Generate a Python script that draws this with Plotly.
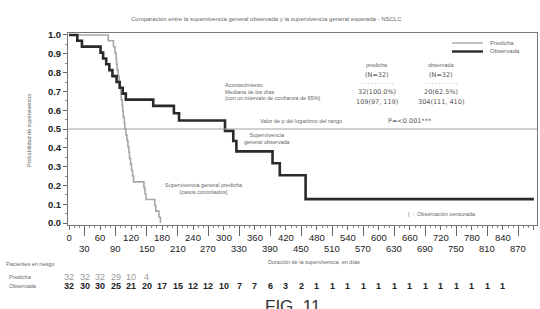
import plotly.graph_objects as go

# ---------------- data ----------------
obs_days = [0, 16, 25, 61, 66, 72, 78, 84, 92, 98, 104, 110, 163, 203, 213,
            302, 318, 324, 394, 408, 458, 900]
obs_surv = [1.0, 0.969, 0.938, 0.906, 0.875, 0.844, 0.813, 0.781, 0.75, 0.719,
            0.688, 0.656, 0.623, 0.584, 0.545, 0.49, 0.436, 0.381, 0.318,
            0.254, 0.127, 0.127]

pred_days = [0, 76, 86, 89, 91, 92, 93, 95, 97, 99, 100, 101, 103, 104, 105,
             107, 108, 110, 112, 114, 116, 117, 119, 121, 123, 125, 145, 147,
             149, 166, 168, 174, 177]
pred_surv = [1.0, 0.969, 0.938, 0.906, 0.875, 0.844, 0.813, 0.781, 0.75, 0.719,
             0.688, 0.656, 0.625, 0.594, 0.563, 0.531, 0.5, 0.469, 0.438,
             0.406, 0.375, 0.344, 0.313, 0.281, 0.25, 0.219, 0.188, 0.156,
             0.125, 0.094, 0.063, 0.031, 0.0]

risk_days = list(range(0, 841, 30))
obs_risk = [32, 30, 30, 25, 21, 20, 17, 15, 12, 12, 10, 7, 7, 6, 3, 2,
            1, 1, 1, 1, 1, 1, 1, 1, 1, 1, 1, 1, 1]
pred_risk = [32, 32, 32, 29, 10, 4]

top_ticks = list(range(0, 901, 60))
bottom_ticks = list(range(30, 871, 60))
y_ticks = [round(i * 0.1, 1) for i in range(11)]

series_names = ["Predicha", "Observada"]
title_text = "Comparación entre la supervivencia general observada y la supervivencia general esperada - NSCLC"

# ---------------- layout helpers ----------------
W, H = 540, 309
L, R, T, B = 68, 3, 33, 84
PW, PH = W - L - R, H - T - B


def px(x):
    return (x - L) / PW


def py(y):
    return (H - B - y) / PH


FONT = "Liberation Sans"
TF = "DejaVu Sans"
DARK = "#222222"
GREY = "#666666"
PRED_COLOR = "#a8a8a8"
OBS_COLOR = "#2a2a2a"

fig = go.Figure()

fig.add_trace(go.Scatter(
    x=pred_days, y=pred_surv, mode="lines", line=dict(shape="hv", color=PRED_COLOR, width=1.6),
    name=series_names[0], xaxis="x", yaxis="y", showlegend=False))
fig.add_trace(go.Scatter(
    x=obs_days, y=obs_surv, mode="lines", line=dict(shape="hv", color=OBS_COLOR, width=2.6),
    name=series_names[1], xaxis="x", yaxis="y", showlegend=False))
# invisible trace on the second x axis (long ticks at the odd multiples of 30)
fig.add_trace(go.Scatter(x=[0], y=[0], xaxis="x2", yaxis="y", mode="markers",
                         marker=dict(opacity=0), showlegend=False, hoverinfo="skip"))

fig.add_hline(y=0.5, line=dict(color="#a0a0a0", width=1))

annotations = []
shapes = []


def ann(text, x, y, size=5.5, color=GREY, xanchor="center", yanchor="middle", family=FONT, **kw):
    annotations.append(dict(text=text, x=px(x), y=py(y), xref="paper", yref="paper",
                            showarrow=False, xanchor=xanchor, yanchor=yanchor,
                            font=dict(family=family, size=size, color=color), **kw))


def ann_x(text, day, y, size, color):
    annotations.append(dict(text=text, x=day, xref="x", y=py(y), yref="paper",
                            showarrow=False, xanchor="center", yanchor="middle",
                            font=dict(family=FONT, size=size, color=color)))


ann(title_text, 266, 19, size=6)
ann("Probabilidad de supervivencia", 29, 130, size=5.5, textangle=-90)
ann("Duración de la supervivencia, en días", 314, 262, size=5.5)

# lower row of x tick labels (staggered)
for t in bottom_ticks:
    ann_x(str(t), t, 248, 9.5, DARK)

# legend box (drawn by hand to get the compact layout)
shapes.append(dict(type="rect", xref="paper", yref="paper", x0=px(448), x1=px(528),
                   y0=py(58), y1=py(37), line=dict(color="#888", width=1), fillcolor="white"))
for i, (nm, col, wd) in enumerate(zip(series_names, [PRED_COLOR, OBS_COLOR], [1.4, 2.4])):
    yy = 43 + i * 8.5
    shapes.append(dict(type="line", xref="paper", yref="paper", x0=px(452), x1=px(483),
                       y0=py(yy), y1=py(yy), line=dict(color=col, width=wd)))
    ann(nm, 488, yy, size=6, xanchor="left")

# table in the plot
for xc, head, n, ev, med in [(377, "predicha", "(N=32)", "32(100.0%)", "109(97, 119)"),
                              (441, "observada", "(N=32)", "20(62.5%)", "304(111, 410)")]:
    ann(head, xc, 65, size=5.5)
    ann(n, xc, 75, size=6.5, family=TF, color="#555")
    ann("- - - - - - - - - -", xc, 83, size=5, family=TF, color="#777")
    ann(ev, xc, 92, size=6.5, family=TF, color="#555")
    ann(med, xc, 101.5, size=6.5, family=TF, color="#555")

ann("Acontecimiento", 223, 85, xanchor="left")
ann("Mediana de los días", 223, 92, xanchor="left")
ann("(con un intervalo de confianza de 95%)", 223, 97.5, xanchor="left")
ann("Valor de p del logaritmo del rango", 301, 121)
ann("P=<0.001***", 410, 121, size=6.5, family=TF, color="#555")
ann("Supervivencia<br>general observada", 242, 138, xanchor="left")
ann("Supervivencia general predicha<br>(casos controlados)", 163, 188.5, xanchor="left")
ann("|  :  Observación censurada", 406, 214, xanchor="left")

# at-risk table
ann("Pacientes en riesgo", 4, 264, xanchor="left")
ann("Predicha", 7, 277, xanchor="left")
ann("Observada", 7, 285.5, xanchor="left")
for d, v in zip(risk_days, pred_risk):
    ann_x(str(v), d, 276.5, 9, "#999999")
for d, v in zip(risk_days, obs_risk):
    ann_x(f"<b>{v}</b>", d, 285.5, 9, DARK)

ann("FIG. 11", 292, 295, size=17, color="#333", yanchor="top")

fig.update_layout(
    template="none",
    width=W, height=H,
    margin=dict(l=L, r=R, t=T, b=B, autoexpand=False),
    paper_bgcolor="white", plot_bgcolor="white",
    showlegend=False,
    xaxis=dict(range=[-2, 906], tickvals=top_ticks, ticktext=[str(t) for t in top_ticks],
               ticks="outside", ticklen=4, tickcolor="#666", showgrid=False, zeroline=False,
               showline=True, linecolor="#777", mirror=True, automargin=False,
               tickfont=dict(family=FONT, size=9.5, color=DARK),
               minor=dict(dtick=10, ticks="outside", ticklen=2, tickcolor="#888")),
    xaxis2=dict(range=[-2, 906], overlaying="x", anchor="y", side="bottom",
                tickvals=bottom_ticks, showticklabels=False,
                ticks="outside", ticklen=10, tickcolor="#666", showgrid=False, zeroline=False,
                showline=False, automargin=False),
    yaxis=dict(range=[-0.0106, 1.0106], tickvals=y_ticks,
               ticktext=[f"<b>{v:.1f}</b>" for v in y_ticks],
               ticks="outside", ticklen=4, tickcolor="#666", showgrid=False, zeroline=False,
               showline=True, linecolor="#777", mirror=True, automargin=False,
               tickfont=dict(family=FONT, size=9.5, color=DARK),
               minor=dict(dtick=0.05, ticks="outside", ticklen=2, tickcolor="#888")),
    annotations=annotations,
    shapes=shapes,
)

fig.write_html("out.html", config={"displayModeBar": False},
               post_script="document.body.style.margin='0';")
